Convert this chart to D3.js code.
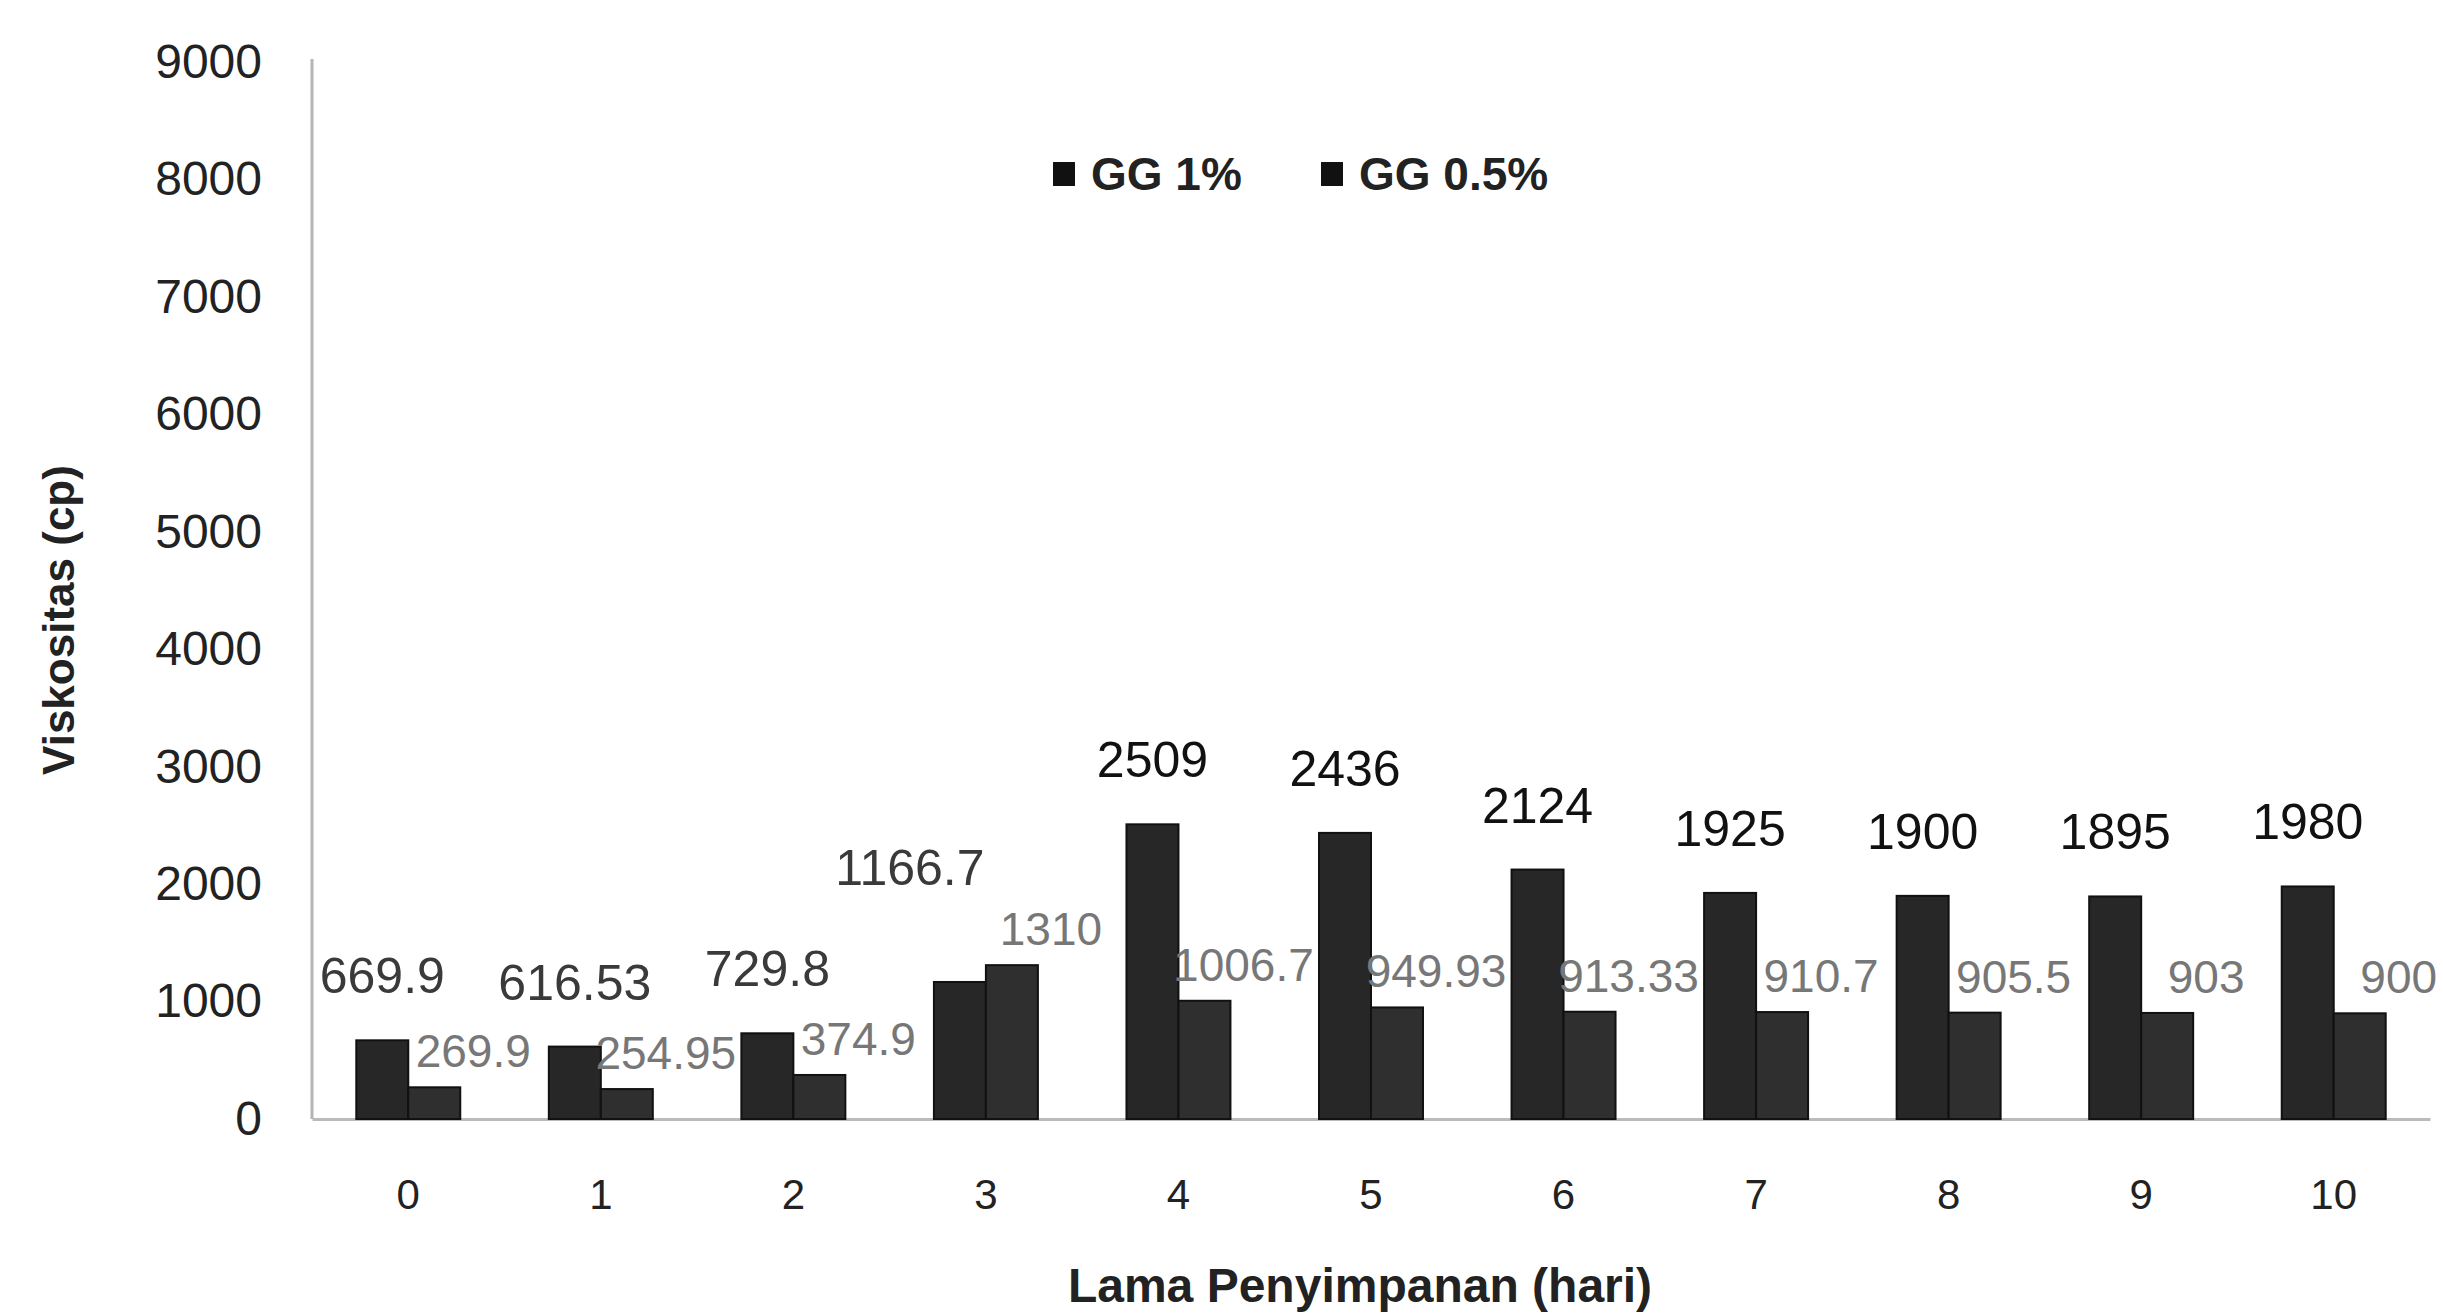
<!DOCTYPE html>
<html>
<head>
<meta charset="utf-8">
<script src="https://cdn.jsdelivr.net/npm/d3@7"></script>
<style>
  body { margin: 0; background: #fff; }
  text { font-family: "Liberation Sans", Arial, sans-serif; }
</style>
</head>
<body>
<script>
// days of storage
var days = ["0", "1", "2", "3", "4", "5", "6", "7", "8", "9", "10"];
var seriesNames = ["GG 1%", "GG 0.5%"];
var gg1 = [669.9, 616.53, 729.8, 1166.7, 2509, 2436, 2124, 1925, 1900, 1895, 1980];
var gg05 = [269.9, 254.95, 374.9, 1310, 1006.7, 949.93, 913.33, 910.7, 905.5, 903, 900];
var yTicks = [0, 1000, 2000, 3000, 4000, 5000, 6000, 7000, 8000, 9000];

var W = 2443, H = 1315;
var plot = { left: 312, right: 2430, top: 62, bottom: 1119 };

var svg = d3.select("body").append("svg")
    .attr("width", W).attr("height", H);

var y = d3.scaleLinear().domain([0, 9000]).range([plot.bottom, plot.top]);
var x = d3.scaleBand().domain(days).range([plot.left, plot.right])
    .paddingInner(0.46).paddingOuter(0.23);
var x1 = d3.scaleBand().domain(seriesNames).range([0, x.bandwidth()]);

// y axis
var gy = svg.append("g").attr("transform", "translate(" + plot.left + ",0)")
    .call(d3.axisLeft(y).tickValues(yTicks).tickFormat(d3.format("d")).tickSize(0).tickPadding(50));
gy.select(".domain").attr("stroke", "#b5b5b5").attr("stroke-width", 3)
    .attr("d", "M0," + (plot.top - 3) + "V" + plot.bottom);
gy.selectAll("text").attr("font-size", 48).attr("fill", "#222")
    .attr("font-family", "Liberation Sans, Arial, sans-serif");

// x axis
var gx = svg.append("g").attr("transform", "translate(0," + plot.bottom + ")")
    .call(d3.axisBottom(x).tickSize(0).tickPadding(60));
gx.select(".domain").attr("stroke", "#bbb").attr("stroke-width", 3);
gx.selectAll("text").attr("font-size", 42).attr("fill", "#222")
    .attr("font-family", "Liberation Sans, Arial, sans-serif");

var rows = days.map(function (d, i) {
    return { day: d, vals: [{ s: "GG 1%", v: gg1[i] }, { s: "GG 0.5%", v: gg05[i] }] };
});

var groups = svg.append("g").selectAll("g").data(rows).join("g")
    .attr("transform", function (d) { return "translate(" + x(d.day) + ",0)"; });

groups.selectAll("rect").data(function (d) { return d.vals; }).join("rect")
    .attr("x", function (d) { return x1(d.s); })
    .attr("width", x1.bandwidth())
    .attr("y", function (d) { return y(d.v); })
    .attr("height", function (d) { return plot.bottom - y(d.v); })
    .attr("fill", function (d) { return d.s == "GG 1%" ? "#272727" : "#2f2f2f"; })
    .attr("stroke", "#111").attr("stroke-width", 2);

// value labels (1% label pushed up-left when the 0.5% bar is taller)
function lifted(d) { return d.vals[1].v > d.vals[0].v; }

groups.append("text")
    .attr("x", function (d) { return x1("GG 1%") + x1.bandwidth() / 2 - (lifted(d) ? 50 : 0); })
    .attr("y", function (d) { return y(d.vals[0].v) - 47 - (lifted(d) ? 50 : 0); })
    .attr("text-anchor", "middle")
    .attr("font-size", 50)
    .attr("fill", function (d, i) { return i < 4 ? "#3a3a3a" : "#111"; })
    .text(function (d) { return d.vals[0].v; });

groups.append("text")
    .attr("x", function (d) { return x1("GG 0.5%") + x1.bandwidth() / 2 + 39; })
    .attr("y", function (d) { return y(d.vals[1].v) - 20; })
    .attr("text-anchor", "middle")
    .attr("font-size", 46)
    .attr("fill", "#777")
    .text(function (d) { return d.vals[1].v; });

// legend
var legX = [1053, 1321];
var leg = svg.append("g").selectAll("g").data(seriesNames).join("g")
    .attr("transform", function (d, i) { return "translate(" + legX[i] + ",162)"; });
leg.append("rect").attr("width", 22).attr("height", 24).attr("fill", "#111");
leg.append("text").attr("x", 38).attr("y", 28)
    .attr("font-size", 46).attr("font-weight", "bold").attr("fill", "#222")
    .text(function (d) { return d; });

// axis titles
svg.append("text")
    .attr("x", 1360).attr("y", 1302)
    .attr("text-anchor", "middle")
    .attr("font-size", 48).attr("font-weight", "bold").attr("fill", "#222")
    .text("Lama Penyimpanan (hari)");

svg.append("text")
    .attr("transform", "translate(74,620) rotate(-90)")
    .attr("text-anchor", "middle")
    .attr("font-size", 44).attr("font-weight", "bold").attr("fill", "#222")
    .text("Viskositas (cp)");
</script>
</body>
</html>
